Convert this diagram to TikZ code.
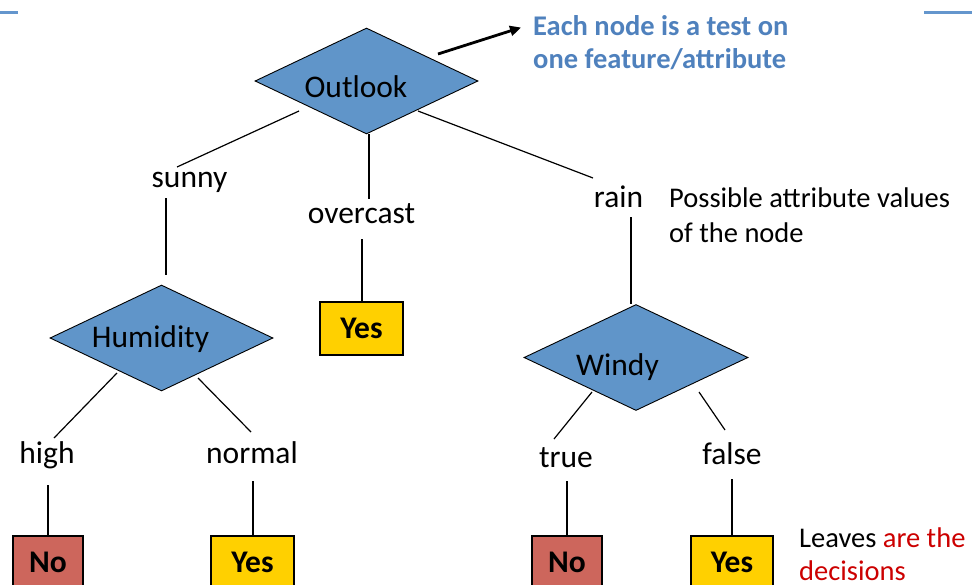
\documentclass[tikz,border=0pt]{standalone}
\usepackage{fontspec}
\setmainfont{Carlito}
\usetikzlibrary{shapes.geometric,arrows.meta}
\definecolor{diafill}{RGB}{96,149,201}
\definecolor{yesfill}{RGB}{255,208,0}
\definecolor{nofill}{RGB}{205,102,92}
\definecolor{notblue}{RGB}{79,129,189}
\definecolor{decred}{RGB}{204,0,0}
\definecolor{barblue}{RGB}{100,150,205}
\tikzset{
  dia/.style={diamond, draw=black, line width=0.9pt, fill=diafill, inner sep=0pt, minimum width=#1, minimum height=106pt},
  dtext/.style={anchor=base, inner sep=0pt, font=\fontsize{31.5}{36}\selectfont},
  branch/.style={anchor=base, inner sep=0pt, font=\fontsize{31.5}{36}\selectfont},
  leaf/.style={draw=black, line width=1.8pt, inner sep=0pt, minimum width=#1, minimum height=53pt, font=\fontsize{31.5}{36}\selectfont\bfseries},
  conn/.style={line width=1.2pt, black},
  note/.style={anchor=base west, inner sep=0pt, font=\fontsize{28.5}{34}\selectfont},
  bnote/.style={anchor=base west, inner sep=0pt, text=notblue, font=\fontsize{28.5}{34}\selectfont\bfseries},
  bar/.style={line width=3.5pt, barblue}
}
\begin{document}
\begin{tikzpicture}[x=1pt,y=-1pt]
\useasboundingbox (0,0) rectangle (972,584);
\clip (0,0) rectangle (972,584);
% decorative bars
\coordinate (bl1) at (0,12.5); \coordinate (bl2) at (18,12.5);
\coordinate (br1) at (924,12.7); \coordinate (br2) at (972,12.7);
\draw[bar] (bl1) -- (bl2);
\draw[bar] (br1) -- (br2);
% diamonds
\node[dia=223pt] (outlook) at (366.5,81) {};
\node[dtext] (outlookt) at (356,97) {Outlook};
\node[dia=223pt] (humidity) at (161.5,338) {};
\node[dtext] (humidityt) at (150.5,347) {Humidity};
\node[dia=224pt] (windy) at (636,357.5) {};
\node[dtext] (windyt) at (617.5,375) {Windy};
% branch labels
\node[branch] (sunny) at (189.5,187) {sunny};
\node[branch] (overcast) at (361.5,223) {overcast};
\node[branch] (rain) at (618.5,207) {rain};
\node[branch] (high) at (47,463) {high};
\node[branch] (normal) at (252,463) {normal};
\node[branch] (true) at (566,467) {true};
\node[branch] (false) at (732,464) {false};
% leaves
\node[leaf=83pt, fill=yesfill] (yes1) at (361.5,328.5) {Yes};
\node[leaf=70pt, fill=nofill] (no1) at (48,562.5) {No};
\node[leaf=83pt, fill=yesfill] (yes2) at (252.5,562.5) {Yes};
\node[leaf=70pt, fill=nofill] (no2) at (567,562.5) {No};
\node[leaf=82pt, fill=yesfill] (yes3) at (732,562.5) {Yes};
% notes
\node[bnote] (n1a) at (533,35) {Each node is a test on};
\node[bnote] (n1b) at (533,68) {one feature/attribute};
\node[note] (n2a) at (669,207) {Possible attribute values};
\node[note] (n2b) at (669,242) {of the node};
\node[note] (n3a) at (799,547) {Leaves \textcolor{decred}{are the}};
\node[note, text=decred] (n3b) at (799,580) {decisions};
% connector end points
\coordinate (o1) at (299,111); \coordinate (s1) at (177,167);
\coordinate (o2) at (369,134); \coordinate (ov1) at (369,199);
\coordinate (o3) at (418,111); \coordinate (r1) at (593,178);
\coordinate (s2) at (166,198); \coordinate (h0) at (166,275);
\coordinate (ov2) at (362,239); \coordinate (y1t) at (362,302);
\coordinate (r2) at (631,217); \coordinate (w0) at (631,304);
\coordinate (h1) at (117,373); \coordinate (hi1) at (54,438);
\coordinate (h2) at (198,378); \coordinate (nm1) at (251,432);
\coordinate (hi2) at (48,485); \coordinate (n1t) at (48,536);
\coordinate (nm2) at (253,481); \coordinate (y2t) at (253,536);
\coordinate (w1) at (592,392); \coordinate (t1) at (554,439);
\coordinate (w2) at (699,392); \coordinate (f1) at (725,430);
\coordinate (t2) at (567,481); \coordinate (n2t) at (567,536);
\coordinate (f2) at (732,479); \coordinate (y3t) at (732,536);
\coordinate (a0) at (438,54); \coordinate (a1) at (521,27.5);
% connectors
\draw[conn] (o1) -- (s1);
\draw[conn] (o2) -- (ov1);
\draw[conn] (o3) -- (r1);
\draw[conn] (s2) -- (h0);
\draw[conn] (ov2) -- (y1t);
\draw[conn] (r2) -- (w0);
\draw[conn] (h1) -- (hi1);
\draw[conn] (h2) -- (nm1);
\draw[conn] (hi2) -- (n1t);
\draw[conn] (nm2) -- (y2t);
\draw[conn] (w1) -- (t1);
\draw[conn] (w2) -- (f1);
\draw[conn] (t2) -- (n2t);
\draw[conn] (f2) -- (y3t);
\draw[line width=2.8pt, -{Triangle[length=11pt,width=10pt]}] (a0) -- (a1);
\end{tikzpicture}
\end{document}
